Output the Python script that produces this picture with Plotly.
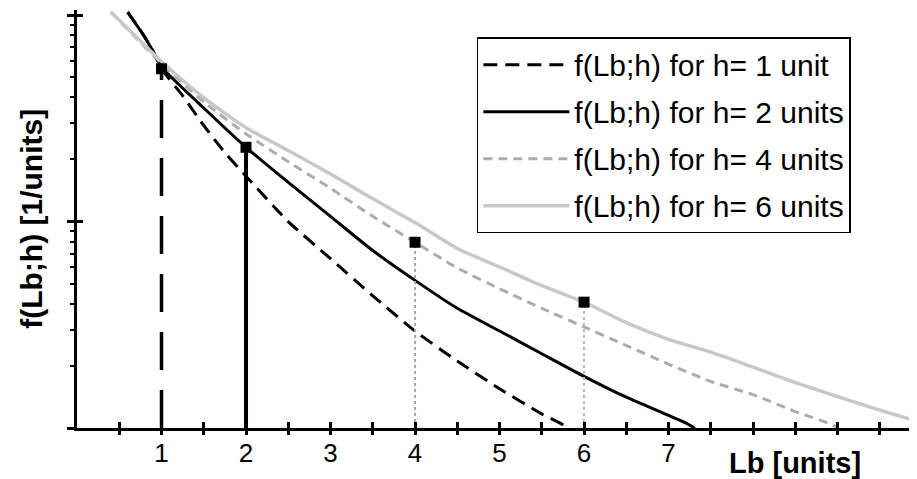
import plotly.graph_objects as go

# ---- data (y on a log axis) ----
x_h1 = [0.6, 0.7, 0.8, 0.9, 1.0, 1.25, 1.5, 1.75, 2.0, 2.5, 3.0, 3.5, 4.0, 4.5, 5.0, 5.5, 5.8, 5.95]
f_h1 = [1.035, 0.902, 0.785, 0.668, 0.55, 0.407, 0.292, 0.216, 0.166, 0.100, 0.0661, 0.0437, 0.0295, 0.0211, 0.0155, 0.0117, 0.0100, 0.0071]

x_h2 = [0.6, 0.7, 0.8, 0.9, 1.0, 1.5, 2.0, 2.5, 3.0, 3.5, 4.0, 4.5, 5.0, 5.5, 6.0, 6.5, 7.0, 7.3, 7.45]
f_h2 = [1.035, 0.902, 0.785, 0.668, 0.562, 0.355, 0.229, 0.155, 0.106, 0.0724, 0.0519, 0.0380, 0.0295, 0.0229, 0.0178, 0.0141, 0.0115, 0.0100, 0.0071]

x_h4 = [0.4, 0.7, 1.0, 1.5, 2.0, 2.5, 3.0, 3.5, 4.0, 4.5, 5.0, 5.5, 6.0, 6.5, 7.0, 7.5, 8.0, 8.5, 9.0, 9.1]
f_h4 = [1.035, 0.776, 0.582, 0.380, 0.266, 0.195, 0.145, 0.106, 0.0794, 0.0596, 0.0473, 0.0380, 0.0309, 0.0251, 0.0204, 0.0168, 0.0145, 0.0120, 0.0100, 0.0079]

x_h6 = [0.4, 0.7, 1.0, 1.5, 2.0, 2.5, 3.0, 3.5, 4.0, 4.5, 5.0, 5.5, 6.0, 6.5, 7.0, 7.5, 8.0, 8.5, 9.0, 9.5, 10.0]
f_h6 = [1.035, 0.785, 0.596, 0.398, 0.285, 0.221, 0.170, 0.129, 0.0989, 0.0741, 0.0603, 0.0490, 0.0407, 0.0324, 0.0269, 0.0233, 0.0197, 0.0166, 0.0142, 0.0122, 0.0106]

h_values = [1, 2, 4, 6]
legend_names = ["f(Lb;h) for h= 1 unit", "f(Lb;h) for h= 2 units",
                "f(Lb;h) for h= 4 units", "f(Lb;h) for h= 6 units"]

x_tick_vals = [0.5, 1, 1.5, 2, 2.5, 3, 3.5, 4, 4.5, 5, 5.5, 6, 6.5, 7, 7.5, 8, 8.5, 9, 9.5]
x_tick_text = ["", "1", "", "2", "", "3", "", "4", "", "5", "", "6", "", "7", "", "", "", "", ""]
y_major = [0.01, 0.1, 1]
y_minor = [0.02, 0.03, 0.04, 0.05, 0.06, 0.07, 0.08, 0.09,
           0.2, 0.3, 0.4, 0.5, 0.6, 0.7, 0.8, 0.9]

x_range = [0, 9.94]
y_bottom = 0.01

curves = [(x_h1, f_h1), (x_h2, f_h2), (x_h4, f_h4), (x_h6, f_h6)]
styles = [
    dict(color="black", width=3, dash="14px,8px", shape="spline", smoothing=0.6),
    dict(color="black", width=3, shape="spline", smoothing=0.6),
    dict(color="#acacac", width=3, dash="9px,6px", shape="spline", smoothing=0.6),
    dict(color="#c8c8c8", width=3.5, shape="spline", smoothing=0.6),
]
vstyles = [
    dict(color="black", width=3.5, dash="38px,20px"),
    dict(color="black", width=4),
    dict(color="#a8a8a8", width=2, dash="dot"),
    dict(color="#b8b8b8", width=2, dash="dot"),
]

FONT = "Liberation Sans, Arial, sans-serif"

fig = go.Figure()
for i, ((xs, fs), st) in enumerate(zip(curves, styles)):
    fig.add_trace(go.Scatter(x=xs, y=fs, mode="lines", line=st, name=legend_names[i],
                             legendgroup=f"g{i}", hoverinfo="skip"))

# vertical lines from the axis to f(h;h) and the square markers
for i, h in enumerate(h_values):
    xs, fs = curves[i]
    fh = fs[xs.index(h)]
    fig.add_trace(go.Scatter(x=[h, h], y=[y_bottom, fh], mode="lines", line=vstyles[i],
                             showlegend=False, hoverinfo="skip"))
for i, h in enumerate(h_values):
    xs, fs = curves[i]
    fh = fs[xs.index(h)]
    fig.add_trace(go.Scatter(x=[h], y=[fh], mode="markers",
                             marker=dict(symbol="square", size=11, color="black"),
                             showlegend=False, hoverinfo="skip"))

# dummy traces so the overlay axes (for crossing ticks) are drawn
fig.add_trace(go.Scatter(x=[None], y=[None], xaxis="x2", yaxis="y", showlegend=False, hoverinfo="skip"))
fig.add_trace(go.Scatter(x=[None], y=[None], xaxis="x", yaxis="y2", showlegend=False, hoverinfo="skip"))

fig.update_layout(
    width=909, height=471,
    margin=dict(l=69, r=0, t=2, b=51),
    paper_bgcolor="white", plot_bgcolor="white",
    font=dict(family=FONT, color="black"),
    xaxis=dict(range=x_range, showline=True, linewidth=3, linecolor="black",
               ticks="inside", ticklen=6, tickwidth=2.5, tickcolor="black",
               tickvals=x_tick_vals, ticktext=x_tick_text,
               tickfont=dict(size=26, family=FONT, color="black"),
               showgrid=False, zeroline=False),
    xaxis2=dict(range=x_range, overlaying="x", anchor="y", side="bottom",
                ticks="outside", ticklen=6, tickwidth=2.5, tickcolor="black",
                tickvals=x_tick_vals, showticklabels=False, showline=False,
                showgrid=False, zeroline=False),
    yaxis=dict(type="log", range=[-2, 0.025], showline=True, linewidth=3, linecolor="black",
               ticks="outside", ticklen=7, tickwidth=2.5, tickcolor="black",
               tickvals=y_major, showticklabels=False, showgrid=False, zeroline=False,
               minor=dict(tickvals=y_minor, ticks="outside", ticklen=4, tickwidth=2,
                          tickcolor="black", showgrid=False)),
    yaxis2=dict(type="log", range=[-2, 0.025], overlaying="y", anchor="x", side="left",
                ticks="inside", ticklen=6, tickwidth=2.5, tickcolor="black",
                tickvals=y_major, showticklabels=False, showline=False,
                showgrid=False, zeroline=False),
    legend=dict(x=0.476, y=0.935, xanchor="left", yanchor="top",
                bordercolor="black", borderwidth=1.5, bgcolor="white",
                font=dict(size=30, family=FONT, color="black"),
                traceorder="grouped", tracegroupgap=5, itemwidth=86),
    showlegend=True,
    annotations=[
        dict(text="<b>Lb [units]</b>", xref="paper", yref="paper", x=0.855, y=-0.083,
             xanchor="center", yanchor="middle", showarrow=False,
             font=dict(size=29, family=FONT, color="black")),
        dict(text="<b>f(Lb;h) [1/units]</b>", xref="paper", yref="paper", x=-0.055, y=0.5,
             xanchor="center", yanchor="middle", textangle=-90, showarrow=False,
             font=dict(size=30, family=FONT, color="black")),
    ],
)

fig.write_html("out.html")
